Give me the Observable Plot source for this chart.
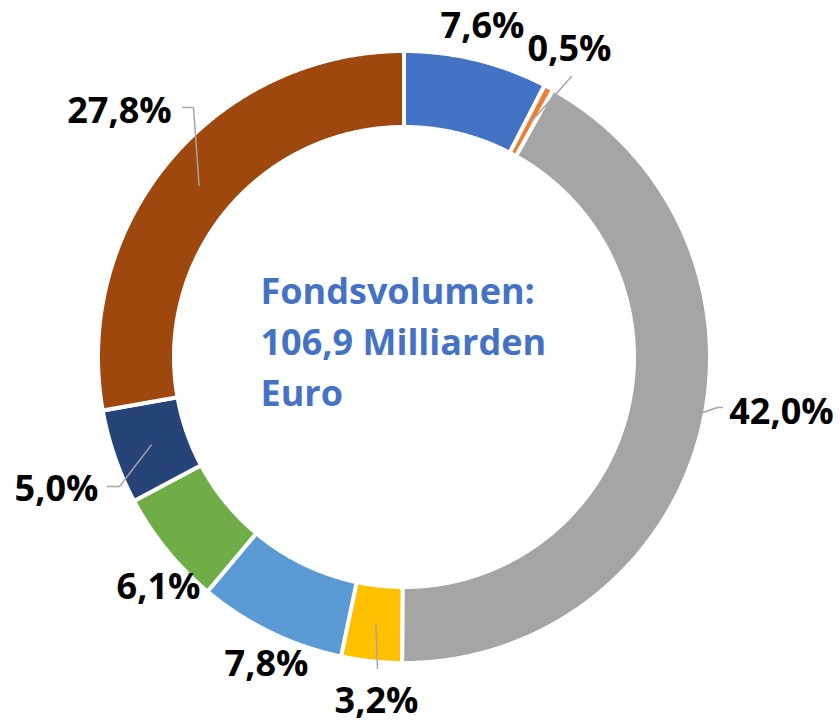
<!DOCTYPE html>
<html>
<head>
<meta charset="utf-8">
<script src="https://cdn.jsdelivr.net/npm/d3@7"></script>
<script src="https://cdn.jsdelivr.net/npm/@observablehq/plot@0.6"></script>
<style>
  html, body { margin: 0; padding: 0; background: #fff; }
  #chart { width: 840px; height: 722px; }
</style>
</head>
<body>
<div id="chart"></div>
<script>
// ---- data ----
const categories = ["Kategorie 1", "Kategorie 2", "Kategorie 3", "Kategorie 4",
                    "Kategorie 5", "Kategorie 6", "Kategorie 7", "Kategorie 8"];
const shares = [7.6, 0.5, 42.0, 3.2, 7.8, 6.1, 5.0, 27.8];
const colors = ["#4472C4", "#ED7D31", "#A5A5A5", "#FFC000",
                "#5B9BD5", "#70AD47", "#264478", "#9E480E"];
const centerLines = ["Fondsvolumen:", "106,9 Milliarden", "Euro"];

// ---- layout (label placement, relative to ring centre, px) ----
const labelAt = [[78, -320], [165, -297], [377, 66], [-28, 355],
                 [-138, 318], [-246, 241], [-348, 143], [-285, -235]];
// leader lines: null = none; else list of extra points after the slice centroid
const leaderTo = [null, [[167, -281]], [[313, 50], [318, 50]], [[-27, 311]],
                  null, null, [[-285, 129], [-297, 129]], [[-211, -250], [-222, -250]]];

const W = 840, H = 722, CX = 404, CY = 357;
const R = 306, r = 230, RM = 268;

const fmt = v => d3.format(".1f")(v).replace(".", ",") + "%";
const total = d3.sum(shares);
let acc = 0;
const slices = shares.map((v, i) => {
  const a0 = acc / total * 2 * Math.PI; acc += v;
  const a1 = acc / total * 2 * Math.PI;
  return {i, v, a0, a1, mid: (a0 + a1) / 2, color: colors[i], name: categories[i]};
});

const ringRows = slices.flatMap(s => {
  const n = Math.max(2, Math.ceil((s.a1 - s.a0) / (Math.PI / 720)) + 1);
  return d3.range(n).map(j => {
    const t = s.a0 + (s.a1 - s.a0) * j / (n - 1);
    return {k: s.i, color: s.color,
            xo: R * Math.sin(t), yo: -R * Math.cos(t),
            xi: r * Math.sin(t), yi: -r * Math.cos(t)};
  });
});

const labelRows = slices.map(s => ({x: labelAt[s.i][0], y: labelAt[s.i][1], text: fmt(s.v)}));

const leaderRows = slices.flatMap(s => {
  if (!leaderTo[s.i]) return [];
  const start = {k: s.i, x: RM * Math.sin(s.mid), y: -RM * Math.cos(s.mid)};
  return [start, ...leaderTo[s.i].map(p => ({k: s.i, x: p[0], y: p[1]}))];
});

const chart = Plot.plot({
  width: W, height: H, margin: 0,
  x: {domain: [-CX, W - CX], axis: null},
  y: {domain: [H - CY, -CY], axis: null},
  color: {type: "identity"},
  style: {background: "#fff", overflow: "visible"},
  marks: [
    Plot.area(ringRows, {x1: "xo", y1: "yo", x2: "xi", y2: "yi", z: "k",
      fill: "color", stroke: "white", strokeWidth: 4}),
    Plot.line(leaderRows, {x: "x", y: "y", z: "k", stroke: "#A6A6A6", strokeWidth: 1.5}),
    Plot.text(labelRows, {x: "x", y: "y", text: "text", textAnchor: "middle", lineAnchor: "bottom",
      fontSize: 36, fontWeight: "bold", fontFamily: "Open Sans", fill: "#000"}),
    Plot.text([centerLines.join("\n")], {x: -144, y: 48, text: d => d, textAnchor: "start",
      lineAnchor: "bottom", lineHeight: 1.4167, fontSize: 36, fontWeight: "bold",
      fontFamily: "Open Sans", fill: "#4472C4"})
  ]
});
document.getElementById("chart").appendChild(chart);
</script>
</body>
</html>
